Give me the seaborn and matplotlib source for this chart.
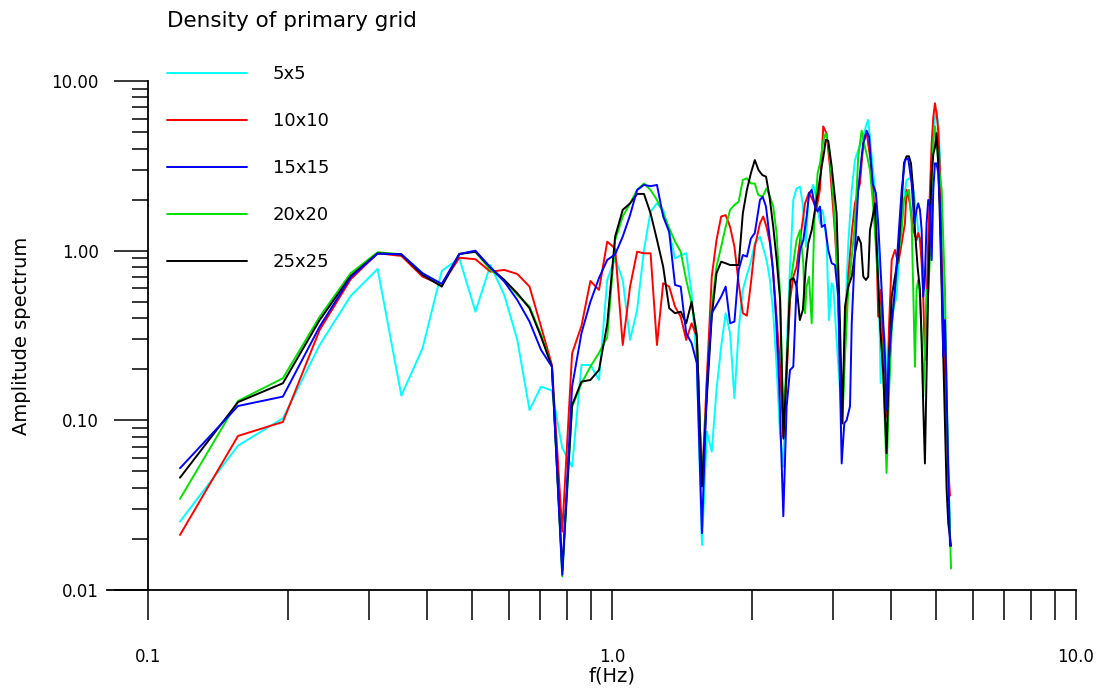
import matplotlib
matplotlib.use("Agg")
import matplotlib.pyplot as plt
import pandas as pd
import seaborn as sns
from matplotlib.ticker import FixedLocator, FixedFormatter, NullFormatter

sns.set_style("ticks")
plt.rcParams['font.family'] = ['DejaVu Sans']
plt.rcParams['text.color'] = 'black'
plt.rcParams['axes.labelcolor'] = 'black'
plt.rcParams['xtick.color'] = 'black'
plt.rcParams['ytick.color'] = 'black'

# ---------------- data ----------------
series_names = ["5x5", "10x10", "15x15", "20x20", "25x25"]
series_colors = ["#00ffff", "#ff0000", "#0000ff", "#00e000", "#000000"]

# low-frequency spectral bins (Hz)
freq_bins = [0.1172, 0.1563, 0.1953, 0.2344, 0.2734, 0.3125, 0.3516, 0.3906, 0.4297, 0.4688,
             0.5078, 0.5469, 0.5859, 0.6250, 0.6641, 0.7031, 0.7422, 0.7813, 0.8203, 0.8594,
             0.8984, 0.9375, 0.9766, 1.0156, 1.0547, 1.0938, 1.1328, 1.1719, 1.2109, 1.2500,
             1.2891, 1.3281, 1.3672, 1.4063, 1.4453, 1.4844, 1.5234, 1.5625, 1.6016, 1.6406,
             1.6797, 1.7188, 1.7578, 1.7969, 1.8359, 1.8750, 1.9141, 1.9531, 1.9922, 2.0313]

amp_5x5_lo = [0.0253, 0.0709, 0.1028, 0.278, 0.541, 0.780, 0.140, 0.266, 0.76, 0.902,
              0.437, 0.823, 0.548, 0.298, 0.115, 0.158, 0.150, 0.0687, 0.0533, 0.212,
              0.212, 0.173, 0.672, 0.902, 0.672, 0.298, 0.447, 1.01, 1.70, 1.90,
              1.74, 1.29, 0.90, 0.94, 0.965, 0.561, 0.217, 0.0184, 0.0858, 0.0654,
              0.151, 0.272, 0.428, 0.326, 0.135, 0.341, 0.587, 0.719, 0.861, 1.105]
amp_10x10_lo = [0.0211, 0.0809, 0.0978, 0.341, 0.678, 0.965, 0.931, 0.703, 0.628, 0.909,
                0.890, 0.752, 0.770, 0.729, 0.614, 0.357, 0.212, 0.0221, 0.248, 0.36,
                0.663, 0.587, 1.13, 1.03, 0.278, 0.614, 0.986, 0.965, 0.965, 0.278,
                0.643, 0.614, 0.468, 0.408, 0.298, 0.373, 0.311, 0.042, 0.181, 0.703,
                1.155, 1.59, 1.62, 1.38, 1.055, 0.643, 0.428, 0.414, 0.643, 1.055]
amp_15x15_lo = [0.0522, 0.1215, 0.138, 0.357, 0.697, 0.960, 0.952, 0.736, 0.637, 0.956,
                1.0, 0.798, 0.657, 0.512, 0.382, 0.26, 0.207, 0.0123, 0.158, 0.326,
                0.50, 0.69, 0.882, 0.95, 1.21, 1.62, 2.28, 2.44, 2.40, 2.44,
                1.59, 1.29, 0.628, 0.614, 0.326, 0.285, 0.217, 0.0216, 0.166, 0.428,
                0.479, 0.536, 0.614, 0.373, 0.382, 0.77, 0.943, 0.922, 1.18, 1.27]
amp_20x20_lo = [0.0344, 0.130, 0.177, 0.408, 0.736, 0.979, 0.952, 0.736, 0.628, 0.956,
                0.986, 0.770, 0.672, 0.548, 0.468, 0.32, 0.207, 0.012, 0.12, 0.165,
                0.207, 0.25, 0.308, 1.15, 1.59, 1.90, 2.28, 2.49, 2.28, 1.99,
                1.66, 1.36, 1.13, 0.986, 0.672, 0.49, 0.326, 0.0408, 0.151, 0.468,
                0.805, 1.055, 1.38, 1.74, 1.86, 1.94, 2.61, 2.67, 2.49, 2.49]
amp_25x25_lo = [0.0459, 0.128, 0.1654, 0.390, 0.709, 0.965, 0.95, 0.719, 0.614, 0.956,
                0.986, 0.794, 0.672, 0.561, 0.458, 0.311, 0.207, 0.0131, 0.1228, 0.169,
                0.173, 0.198, 0.37, 1.21, 1.74, 1.90, 2.16, 2.16, 1.66, 1.16,
                0.805, 0.458, 0.428, 0.437, 0.373, 0.500, 0.311, 0.0408, 0.138, 0.408,
                0.736, 0.861, 0.843, 0.823, 0.823, 0.823, 1.66, 2.28, 2.86, 3.42]

# high-frequency part: (frequency Hz, amplitude) vertices
hf_5x5 = [(2.084, 1.21), (2.153, 0.882), (2.190, 0.672), (2.226, 0.428), (2.263, 0.207),
          (2.302, 0.084), (2.340, 0.0533), (2.379, 0.26), (2.419, 0.805), (2.459, 1.99),
          (2.499, 2.33), (2.542, 2.38), (2.576, 1.90), (2.618, 1.055), (2.648, 1.99),
          (2.694, 2.28), (2.715, 2.44), (2.760, 1.99), (2.807, 1.45), (2.831, 1.74),
          (2.853, 1.66), (2.900, 1.155), (2.935, 0.39), (2.975, 0.643), (2.999, 0.614),
          (3.048, 0.298), (3.100, 0.151), (3.136, 0.096), (3.178, 0.373), (3.230, 1.105),
          (3.286, 2.28), (3.339, 3.42), (3.394, 3.92), (3.480, 4.7), (3.537, 5.6),
          (3.566, 5.9), (3.628, 3.6), (3.687, 2.28), (3.747, 0.92), (3.793, 0.166),
          (3.831, 0.373), (3.875, 0.298), (3.938, 0.121), (3.987, 0.373), (4.039, 0.447),
          (4.105, 0.536), (4.175, 1.105), (4.244, 1.9), (4.314, 2.61), (4.387, 2.67),
          (4.424, 2.61), (4.497, 1.99), (4.570, 1.32), (4.649, 0.92), (4.725, 0.70),
          (4.764, 0.587), (4.803, 0.92), (4.886, 2.49), (4.925, 4.45), (4.966, 6.1),
          (5.006, 6.6), (5.048, 5.6), (5.092, 3.6), (5.135, 1.45), (5.176, 0.587),
          (5.219, 0.237), (5.262, 0.121), (5.305, 0.061), (5.351, 0.0207)]
hf_10x10 = [(2.084, 1.45), (2.118, 1.59), (2.153, 1.38), (2.190, 1.105), (2.226, 0.736),
            (2.263, 0.408), (2.302, 0.207), (2.340, 0.080), (2.379, 0.181), (2.419, 0.512),
            (2.459, 0.703), (2.499, 0.805), (2.542, 1.155), (2.584, 1.59), (2.606, 1.9),
            (2.658, 2.2), (2.760, 1.78), (2.807, 2.3), (2.853, 5.4), (2.900, 4.9),
            (2.950, 3.1), (3.024, 1.27), (3.073, 0.587), (3.126, 0.109), (3.178, 0.285),
            (3.230, 0.703), (3.286, 1.27), (3.339, 1.9), (3.394, 2.28), (3.423, 2.49),
            (3.480, 4.29), (3.537, 5.0), (3.597, 3.6), (3.656, 2.28), (3.717, 1.01),
            (3.747, 0.408), (3.793, 0.587), (3.842, 0.237), (3.906, 0.105), (3.956, 0.373),
            (4.007, 0.88), (4.072, 1.01), (4.139, 0.843), (4.210, 1.105), (4.279, 1.45),
            (4.314, 2.28), (4.387, 1.9), (4.459, 1.32), (4.533, 1.155), (4.570, 1.27),
            (4.610, 1.18), (4.649, 0.843), (4.686, 0.536), (4.725, 0.227), (4.764, 0.468),
            (4.803, 1.155), (4.845, 2.28), (4.886, 4.29), (4.925, 6.1), (4.966, 7.4),
            (5.006, 6.45), (5.048, 5.1), (5.092, 2.86), (5.135, 0.92), (5.176, 0.373),
            (5.219, 0.19), (5.262, 0.096), (5.305, 0.0511), (5.351, 0.036)]
hf_15x15 = [(2.084, 1.99), (2.112, 2.08), (2.147, 1.82), (2.181, 1.27), (2.220, 0.805),
            (2.256, 0.408), (2.292, 0.166), (2.340, 0.0272), (2.379, 0.121), (2.419, 0.198),
            (2.459, 0.207), (2.499, 0.614), (2.542, 1.01), (2.584, 1.155), (2.627, 1.59),
            (2.660, 2.18), (2.694, 2.28), (2.738, 1.82), (2.774, 1.70), (2.807, 1.82),
            (2.831, 1.38), (2.877, 1.42), (2.924, 1.01), (2.975, 0.843), (3.024, 0.823),
            (3.073, 0.536), (3.126, 0.0557), (3.167, 0.096), (3.203, 0.1), (3.258, 0.121),
            (3.286, 0.373), (3.339, 1.01), (3.394, 2.28), (3.452, 3.6), (3.480, 4.29),
            (3.537, 5.1), (3.582, 4.7), (3.646, 2.49), (3.705, 2.18), (3.747, 1.45),
            (3.812, 0.587), (3.875, 0.237), (3.906, 0.115), (3.956, 0.237), (4.007, 0.373),
            (4.072, 0.587), (4.139, 1.155), (4.210, 2.28), (4.279, 3.42), (4.349, 3.5),
            (4.424, 2.49), (4.481, 1.45), (4.533, 1.74), (4.570, 1.90), (4.610, 1.74),
            (4.649, 1.32), (4.686, 0.536), (4.725, 0.703), (4.764, 1.45), (4.803, 1.99),
            (4.845, 1.82), (4.886, 0.88), (4.925, 2.28), (4.966, 3.27), (5.006, 3.27),
            (5.048, 2.86), (5.092, 1.82), (5.135, 0.736), (5.176, 0.237), (5.219, 0.39),
            (5.262, 0.151), (5.305, 0.0492), (5.351, 0.0182)]
hf_20x20 = [(2.066, 2.13), (2.112, 2.08), (2.153, 2.33), (2.190, 2.08), (2.226, 1.82),
            (2.263, 1.27), (2.302, 0.561), (2.340, 0.105), (2.379, 0.207), (2.419, 0.614),
            (2.459, 0.843), (2.499, 1.155), (2.542, 1.32), (2.584, 0.843), (2.606, 0.428),
            (2.627, 0.614), (2.658, 0.703), (2.694, 0.373), (2.728, 1.45), (2.774, 2.86),
            (2.807, 3.27), (2.853, 4.45), (2.887, 4.92), (2.935, 4.06), (2.999, 2.08),
            (3.048, 0.92), (3.100, 0.237), (3.136, 0.096), (3.178, 0.237), (3.230, 0.587),
            (3.286, 0.92), (3.339, 1.45), (3.394, 3.6), (3.452, 5.1), (3.509, 4.06),
            (3.548, 3.6), (3.597, 2.98), (3.656, 1.82), (3.717, 0.92), (3.780, 0.408),
            (3.842, 0.19), (3.906, 0.049), (3.956, 0.151), (4.007, 0.341), (4.072, 0.587),
            (4.139, 0.92), (4.210, 1.32), (4.258, 1.99), (4.314, 2.18), (4.365, 2.28),
            (4.424, 1.45), (4.459, 0.587), (4.497, 0.207), (4.533, 0.587), (4.570, 0.672),
            (4.610, 0.536), (4.649, 0.298), (4.686, 0.138), (4.725, 0.26), (4.764, 0.587),
            (4.803, 0.561), (4.845, 0.92), (4.886, 2.28), (4.925, 4.45), (4.966, 5.4),
            (5.006, 4.45), (5.048, 3.27), (5.135, 2.28), (5.176, 1.155), (5.219, 0.587),
            (5.262, 0.151), (5.305, 0.0492), (5.378, 0.0134)]
hf_25x25 = [(2.070, 2.98), (2.109, 2.79), (2.148, 2.73), (2.185, 2.08), (2.226, 1.38),
            (2.264, 0.882), (2.303, 0.512), (2.342, 0.078), (2.383, 0.227), (2.423, 0.672),
            (2.462, 0.688), (2.500, 0.614), (2.540, 0.39), (2.578, 0.447), (2.618, 0.823),
            (2.648, 1.105), (2.694, 1.32), (2.738, 1.74), (2.783, 2.28), (2.831, 3.13),
            (2.867, 3.85), (2.887, 4.5), (2.924, 4.45), (2.975, 3.13), (3.048, 1.66),
            (3.100, 0.373), (3.136, 0.096), (3.178, 0.468), (3.230, 0.614), (3.286, 0.703),
            (3.339, 0.965), (3.394, 1.21), (3.440, 1.105), (3.480, 0.703), (3.526, 0.672),
            (3.566, 0.703), (3.597, 1.32), (3.646, 1.59), (3.687, 1.9), (3.717, 1.1),
            (3.780, 0.373), (3.842, 0.19), (3.906, 0.064), (3.956, 0.237), (4.007, 0.536),
            (4.072, 0.703), (4.139, 0.92), (4.210, 1.9), (4.258, 3.27), (4.314, 3.6),
            (4.365, 3.6), (4.409, 3.27), (4.459, 2.28), (4.497, 1.32), (4.556, 0.805),
            (4.610, 0.587), (4.649, 0.298), (4.686, 0.121), (4.725, 0.0557), (4.764, 0.19),
            (4.803, 0.587), (4.845, 1.45), (4.886, 2.86), (4.925, 3.7), (4.966, 4.06),
            (5.006, 4.92), (5.048, 3.27), (5.092, 1.45), (5.135, 0.587), (5.176, 0.237),
            (5.219, 0.096), (5.262, 0.0392), (5.305, 0.0248), (5.378, 0.0182)]

x_ticks = [0.1, 1.0, 10.0]
x_tick_labels = ["0.1", "1.0", "10.0"]
y_ticks = [0.01, 0.1, 1.0, 10.0]
y_tick_labels = ["0.01", "0.10", "1.00", "10.00"]

# ---------------- build long table ----------------
lows = [amp_5x5_lo, amp_10x10_lo, amp_15x15_lo, amp_20x20_lo, amp_25x25_lo]
highs = [hf_5x5, hf_10x10, hf_15x15, hf_20x20, hf_25x25]
frames = []
for name, lo, hi in zip(series_names, lows, highs):
    f = list(freq_bins) + [p[0] for p in hi]
    a = list(lo) + [p[1] for p in hi]
    frames.append(pd.DataFrame({"f": f, "amp": a, "grid": name}))
df = pd.concat(frames, ignore_index=True)

# ---------------- figure ----------------
W, H = 1104, 690
fig = plt.figure(figsize=(W / 100, H / 100), dpi=100)
ax_left, ax_right, ax_top, ax_bottom = 107, 1076, 81, 590
ax = fig.add_axes([ax_left / W, (H - ax_bottom) / H,
                   (ax_right - ax_left) / W, (ax_bottom - ax_top) / H])
ax.set_xscale("log")
ax.set_yscale("log")

zorders = {"5x5": 2, "10x10": 3, "20x20": 4, "25x25": 5, "15x15": 6}
for name, color in zip(series_names, series_colors):
    sub = df[df["grid"] == name]
    sns.lineplot(data=sub, x="f", y="amp", color=color, linewidth=1.4,
                 estimator=None, label=name, ax=ax, zorder=zorders[name])

handles, labels = ax.get_legend_handles_labels()
if ax.get_legend() is not None:
    ax.get_legend().remove()
order = [labels.index(n) for n in series_names]
handles = [handles[i] for i in order]
labels = [labels[i] for i in order]

# axis extents: bottom line extends a bit left of the y axis
x_left = 0.1 * 10 ** (-(148 - ax_left) / 464.0)
ax.set_xlim(x_left, 10)
ax.set_ylim(0.01, 10)
ax.spines["left"].set_position(("data", 0.1))
for s in ["top", "right"]:
    ax.spines[s].set_visible(False)
for s in ["left", "bottom"]:
    ax.spines[s].set_linewidth(1.3)
    ax.spines[s].set_color("black")

ax.xaxis.set_major_locator(FixedLocator(x_ticks))
ax.xaxis.set_major_formatter(FixedFormatter(x_tick_labels))
ax.xaxis.set_minor_locator(FixedLocator([m * d for d in (0.1, 1.0) for m in range(2, 10)]))
ax.xaxis.set_minor_formatter(NullFormatter())
ax.yaxis.set_major_locator(FixedLocator(y_ticks))
ax.yaxis.set_major_formatter(FixedFormatter(y_tick_labels))
ax.yaxis.set_minor_locator(FixedLocator([m * d for d in (0.01, 0.1, 1.0) for m in range(2, 10)]))
ax.yaxis.set_minor_formatter(NullFormatter())

ax.tick_params(axis="x", which="both", direction="out", length=21.6, width=1.1,
               color="black", pad=20, labelsize=12, labelcolor="black")
ax.tick_params(axis="y", which="major", direction="out", length=24.5, width=1.1,
               color="black", pad=11, labelsize=12, labelcolor="black")
ax.tick_params(axis="y", which="minor", direction="out", length=11.5, width=1.1,
               color="black")

ax.set_xlabel("f(Hz)", fontsize=14, color="black")
ax.set_ylabel("Amplitude spectrum", fontsize=14, color="black")
ax.xaxis.set_label_coords((612 - ax_left) / (ax_right - ax_left), -(666 - ax_bottom) / (ax_bottom - ax_top))
ax.yaxis.set_label_coords((31 - ax_left) / (ax_right - ax_left), 0.5)

leg = fig.legend(handles, labels, loc="upper left",
                 bbox_to_anchor=(167 / W, 1 - 11 / H), bbox_transform=fig.transFigure,
                 frameon=False, title="Density of primary grid", alignment="left",
                 fontsize=13, title_fontsize=15.5, handlelength=4.43, handletextpad=1.44,
                 labelspacing=1.61, borderpad=0, borderaxespad=0)
leg.get_title().set_color("black")
for t in leg.get_texts():
    t.set_color("black")
# extra gap between title and the entries
leg._legend_box.sep = 24.5

fig.savefig("out.png", dpi=100, facecolor="white")
